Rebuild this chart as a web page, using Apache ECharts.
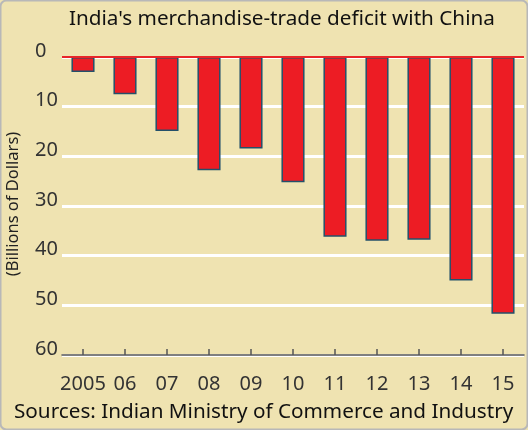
<!DOCTYPE html>
<html><head><meta charset="utf-8">
<script src="https://cdn.jsdelivr.net/npm/echarts@6/dist/echarts.min.js"></script>
<style>html,body{margin:0;padding:0;background:#fff}#c{width:528px;height:430px}</style>
</head><body><div id="c"></div>
<script>
const years = ['2005','06','07','08','09','10','11','12','13','14','15'];
const deficit = [3.0, 7.5, 14.9, 22.8, 18.4, 25.2, 36.2, 37.0, 36.8, 45.0, 51.7];
const yTicks = [0, 10, 20, 30, 40, 50, 60];
const titleText = "India's merchandise-trade deficit with China";
const sourceText = 'Sources: Indian Ministry of Commerce and Industry';
const yName = '(Billions of Dollars)';

const chart = echarts.init(document.getElementById('c'));
const font = 'Noto Sans';
chart.setOption({
  animation: false,
  backgroundColor: '#efe3b1',
  graphic: [
    {type:'rect', shape:{x:0.5,y:0.5,width:527,height:429,r:6}, style:{fill:'none', stroke:'#b8b8b8', lineWidth:2}, z:100},
    {type:'text', left:14, top:402, style:{text:sourceText, font:'20.7px "Noto Sans"', fill:'#111'}},
    {type:'text', x:13, y:204, rotation: Math.PI/2,
      style:{text:yName, font:'16.5px "Noto Sans"', fill:'#222', align:'center', verticalAlign:'middle'}}
  ],
  title: {text: titleText, left: 64, top: 4,
    textStyle:{fontFamily:font, fontSize:20.7, fontWeight:'normal', color:'#111'}},
  grid: {left: 62, right: 4, top: 57, bottom: 75, containLabel:false},
  xAxis: {type:'category', data: years, position:'bottom',
    axisLine:{show:true, onZero:false, lineStyle:{color:'#555', width:1.5}},
    axisTick:{show:true, inside:true, alignWithLabel:true, length:6, lineStyle:{color:'#555', width:1.5}},
    axisLabel:{fontFamily:font, fontSize:20, color:'#333', margin:19, interval:0}},
  yAxis: {type:'value', inverse:true, min:0, max:60, interval:10,
    axisLine:{show:false}, axisTick:{show:false},
    axisLabel:{fontFamily:font, fontSize:20, color:'#333', margin:27, align:'left',
      verticalAlign:'bottom', lineHeight:12,
      formatter: v => yTicks.includes(v) ? String(v) : ''},
    splitLine:{show:true, lineStyle:{color:'#ffffff', width:3}}},
  series: [{
    type:'bar', data: deficit, barWidth:'55%',
    itemStyle:{color:'#ed1c24', borderColor:'#24506a', borderWidth:1.5},
    markLine:{symbol:'none', silent:true, label:{show:false},
      lineStyle:{color:'#e8262a', width:2, type:'solid'},
      data:[{yAxis:0}]}
  }]
});
</script></body></html>
